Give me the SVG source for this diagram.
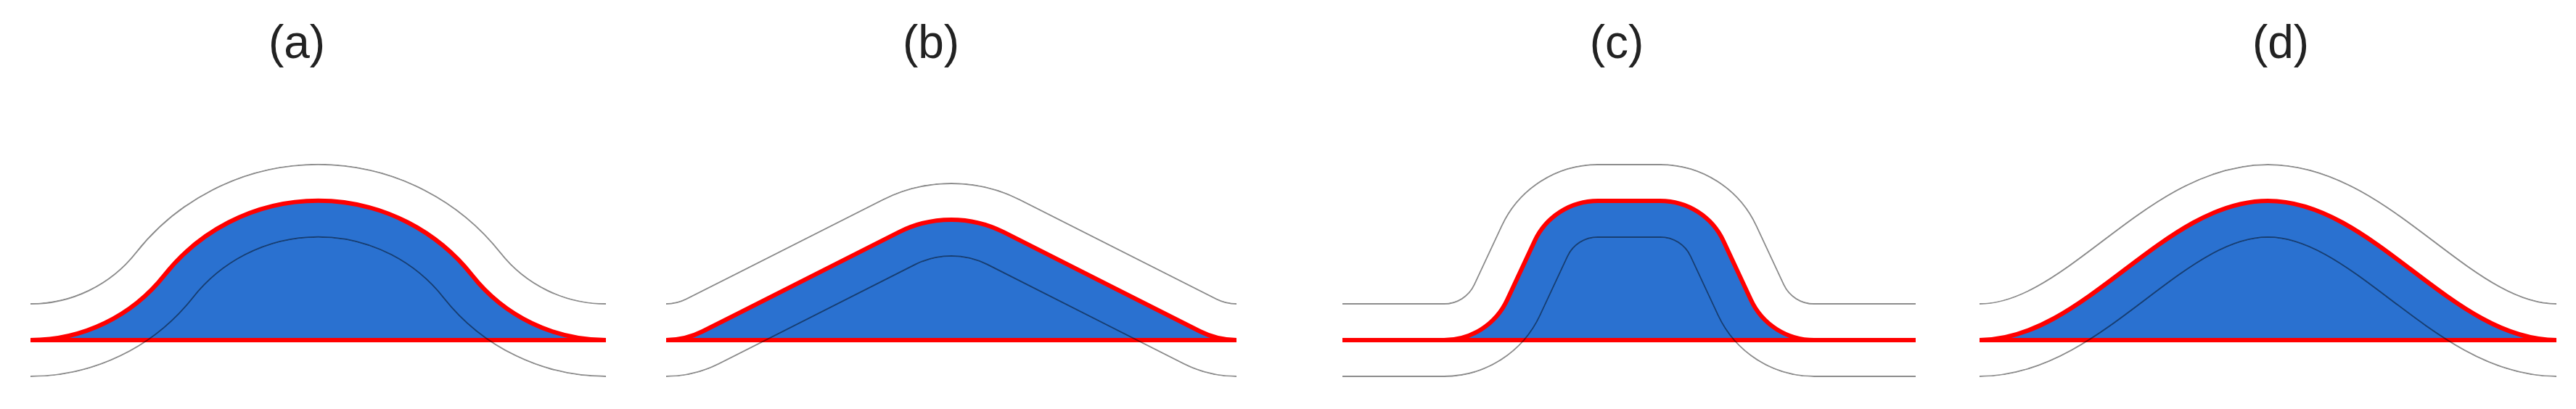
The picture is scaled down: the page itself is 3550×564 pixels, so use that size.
<svg xmlns="http://www.w3.org/2000/svg" xmlns:xlink="http://www.w3.org/1999/xlink" width="3550" height="564" viewBox="0 0 3550 564">
<style>
.fill{fill:#2a71d0;stroke:none}
.red{fill:none;stroke:#ff0000;stroke-width:6}
.off{fill:none;stroke:#000;stroke-opacity:0.45;stroke-width:102}
.mw{fill:none;stroke:#fff;stroke-width:102}
.mb{fill:none;stroke:#000;stroke-width:98}
.t{font-family:'Liberation Sans',Arial,sans-serif;font-size:64px;fill:#222;text-anchor:middle}
</style>
<defs>
<path id="ca" d="M42 469 A235 235 0 0 0 226.46 379.61 A270 270 0 0 1 650.54 379.61 A235 235 0 0 0 835 469"/>
<path id="cb" d="M918 469 A111 111 0 0 0 968.13 457.04 L1238.76 320.15 A160 160 0 0 1 1383.24 320.15 L1653.87 457.04 A111 111 0 0 0 1704 469"/>
<path id="cc" d="M1850 469 L1990 469 A96 96 0 0 0 2077.06 413.53 L2114.84 332.47 A96 96 0 0 1 2201.9 277 L2288.1 277 A96 96 0 0 1 2375.16 332.47 L2412.94 413.53 A96 96 0 0 0 2500 469 L2640 469"/>
<path id="cd" d="M2728 469 C2872.5 469 2981 277 3125.5 277 C3270 277 3378.5 469 3523 469"/>
<mask id="ma" maskUnits="userSpaceOnUse" x="0" y="0" width="3550" height="564"><use href="#ca" class="mw"/><use href="#ca" class="mb"/></mask>
<mask id="mb" maskUnits="userSpaceOnUse" x="0" y="0" width="3550" height="564"><use href="#cb" class="mw"/><use href="#cb" class="mb"/></mask>
<mask id="mc" maskUnits="userSpaceOnUse" x="0" y="0" width="3550" height="564"><use href="#cc" class="mw"/><use href="#cc" class="mb"/></mask>
<mask id="md" maskUnits="userSpaceOnUse" x="0" y="0" width="3550" height="564"><use href="#cd" class="mw"/><use href="#cd" class="mb"/></mask>
</defs>
<rect width="3550" height="564" fill="#fff"/>
<g id="panel-a">
<text class="t" x="409" y="80">(a)</text>
<use href="#ca" class="fill"/>
<use href="#ca" class="red"/>
<line class="red" x1="42" y1="469" x2="835" y2="469"/>
<use href="#ca" class="off" mask="url(#ma)"/>
</g>
<g id="panel-b">
<text class="t" x="1283" y="80">(b)</text>
<use href="#cb" class="fill"/>
<use href="#cb" class="red"/>
<line class="red" x1="918" y1="469" x2="1704" y2="469"/>
<use href="#cb" class="off" mask="url(#mb)"/>
</g>
<g id="panel-c">
<text class="t" x="2228" y="80">(c)</text>
<use href="#cc" class="fill"/>
<use href="#cc" class="red"/>
<line class="red" x1="1850" y1="469" x2="2640" y2="469"/>
<use href="#cc" class="off" mask="url(#mc)"/>
</g>
<g id="panel-d">
<text class="t" x="3143" y="80">(d)</text>
<use href="#cd" class="fill"/>
<use href="#cd" class="red"/>
<line class="red" x1="2728" y1="469" x2="3523" y2="469"/>
<use href="#cd" class="off" mask="url(#md)"/>
</g>
</svg>
